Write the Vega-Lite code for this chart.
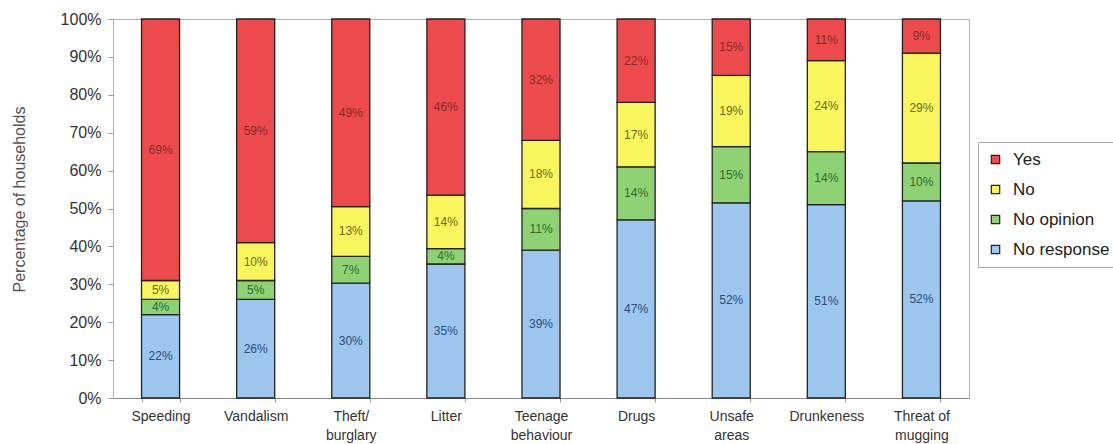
{
  "$schema": "https://vega.github.io/schema/vega-lite/v6.json",
  "autosize": {"type": "none"},
  "width": 856,
  "height": 379,
  "padding": {"left": 113, "top": 19, "right": 144, "bottom": 46},
  "background": "white",
  "config": {
    "font": "Liberation Sans",
    "view": {"stroke": "#b0b0b0", "strokeWidth": 1}
  },
  "data": {
    "values": [
      {"issue": "Speeding", "response": "No response", "rank": 1, "value": 22},
      {"issue": "Speeding", "response": "No opinion", "rank": 2, "value": 4},
      {"issue": "Speeding", "response": "No", "rank": 3, "value": 5},
      {"issue": "Speeding", "response": "Yes", "rank": 4, "value": 69},
      {"issue": "Vandalism", "response": "No response", "rank": 1, "value": 26},
      {"issue": "Vandalism", "response": "No opinion", "rank": 2, "value": 5},
      {"issue": "Vandalism", "response": "No", "rank": 3, "value": 10},
      {"issue": "Vandalism", "response": "Yes", "rank": 4, "value": 59},
      {"issue": "Theft/burglary", "response": "No response", "rank": 1, "value": 30},
      {"issue": "Theft/burglary", "response": "No opinion", "rank": 2, "value": 7},
      {"issue": "Theft/burglary", "response": "No", "rank": 3, "value": 13},
      {"issue": "Theft/burglary", "response": "Yes", "rank": 4, "value": 49},
      {"issue": "Litter", "response": "No response", "rank": 1, "value": 35},
      {"issue": "Litter", "response": "No opinion", "rank": 2, "value": 4},
      {"issue": "Litter", "response": "No", "rank": 3, "value": 14},
      {"issue": "Litter", "response": "Yes", "rank": 4, "value": 46},
      {"issue": "Teenage behaviour", "response": "No response", "rank": 1, "value": 39},
      {"issue": "Teenage behaviour", "response": "No opinion", "rank": 2, "value": 11},
      {"issue": "Teenage behaviour", "response": "No", "rank": 3, "value": 18},
      {"issue": "Teenage behaviour", "response": "Yes", "rank": 4, "value": 32},
      {"issue": "Drugs", "response": "No response", "rank": 1, "value": 47},
      {"issue": "Drugs", "response": "No opinion", "rank": 2, "value": 14},
      {"issue": "Drugs", "response": "No", "rank": 3, "value": 17},
      {"issue": "Drugs", "response": "Yes", "rank": 4, "value": 22},
      {"issue": "Unsafe areas", "response": "No response", "rank": 1, "value": 52},
      {"issue": "Unsafe areas", "response": "No opinion", "rank": 2, "value": 15},
      {"issue": "Unsafe areas", "response": "No", "rank": 3, "value": 19},
      {"issue": "Unsafe areas", "response": "Yes", "rank": 4, "value": 15},
      {"issue": "Drunkeness", "response": "No response", "rank": 1, "value": 51},
      {"issue": "Drunkeness", "response": "No opinion", "rank": 2, "value": 14},
      {"issue": "Drunkeness", "response": "No", "rank": 3, "value": 24},
      {"issue": "Drunkeness", "response": "Yes", "rank": 4, "value": 11},
      {"issue": "Threat of mugging", "response": "No response", "rank": 1, "value": 52},
      {"issue": "Threat of mugging", "response": "No opinion", "rank": 2, "value": 10},
      {"issue": "Threat of mugging", "response": "No", "rank": 3, "value": 29},
      {"issue": "Threat of mugging", "response": "Yes", "rank": 4, "value": 9}
    ]
  },
  "encoding": {
    "x": {
      "field": "issue",
      "type": "nominal",
      "sort": null,
      "scale": {"paddingInner": 0.6, "paddingOuter": 0.3},
      "axis": {
        "title": null,
        "labelAngle": 0,
        "labelFontSize": 14,
        "labelColor": "#333",
        "labelPadding": 7,
        "labelLineHeight": 19,
        "labelExpr": "datum.label == 'Theft/burglary' ? ['Theft/', 'burglary'] : datum.label == 'Teenage behaviour' ? ['Teenage', 'behaviour'] : datum.label == 'Unsafe areas' ? ['Unsafe', 'areas'] : datum.label == 'Threat of mugging' ? ['Threat of', 'mugging'] : datum.label",
        "tickBand": "extent",
        "tickColor": "#999",
        "tickSize": 4,
        "domainColor": "#888",
        "grid": false
      }
    },
    "y": {
      "field": "value",
      "type": "quantitative",
      "stack": "normalize",
      "scale": {"domain": [0, 1], "nice": false},
      "axis": {
        "title": "Percentage of households",
        "titleFont": "Liberation Sans",
        "titleFontSize": 16,
        "titleFontWeight": "normal",
        "titleColor": "#555",
        "titlePadding": 33,
        "titleY": 180,
        "format": ".0%",
        "values": [0, 0.1, 0.2, 0.3, 0.4, 0.5, 0.6, 0.7, 0.8, 0.9, 1],
        "labelFontSize": 16,
        "labelColor": "#333",
        "labelPadding": 7,
        "tickColor": "#999",
        "tickSize": 5,
        "domainColor": "#b0b0b0",
        "grid": false
      }
    },
    "order": {"field": "rank", "type": "ordinal"}
  },
  "layer": [
    {
      "mark": {"type": "bar", "stroke": "#222", "strokeWidth": 1.3},
      "encoding": {
        "color": {
          "field": "response",
          "type": "nominal",
          "scale": {
            "domain": ["Yes", "No", "No opinion", "No response"],
            "range": ["#ec4a4c", "#f8f65c", "#8fd275", "#9cc6ee"]
          },
          "legend": {
            "title": null,
            "orient": "none",
            "legendX": 865,
            "legendY": 123,
            "symbolType": "square",
            "symbolSize": 70,
            "symbolStrokeColor": "#222",
            "symbolStrokeWidth": 1.2,
            "symbolOpacity": 1,
            "labelFontSize": 17,
            "labelColor": "#222",
            "labelOffset": 9,
            "rowPadding": 12,
            "padding": 9,
            "strokeColor": "#aaa",
            "fillColor": "white"
          }
        }
      }
    },
    {
      "mark": {"type": "text", "fontSize": 12, "baseline": "middle"},
      "encoding": {
        "y": {"field": "value", "type": "quantitative", "stack": "normalize", "bandPosition": 0.5},
        "text": {"value": {"expr": "datum.value + '%'"}},
        "color": {
          "field": "response",
          "type": "nominal",
          "scale": {
            "domain": ["Yes", "No", "No opinion", "No response"],
            "range": ["#8a2a2a", "#6e6a1e", "#2f6a2f", "#2d4d7a"]
          },
          "legend": null
        }
      }
    }
  ],
  "resolve": {"scale": {"color": "independent"}}
}
